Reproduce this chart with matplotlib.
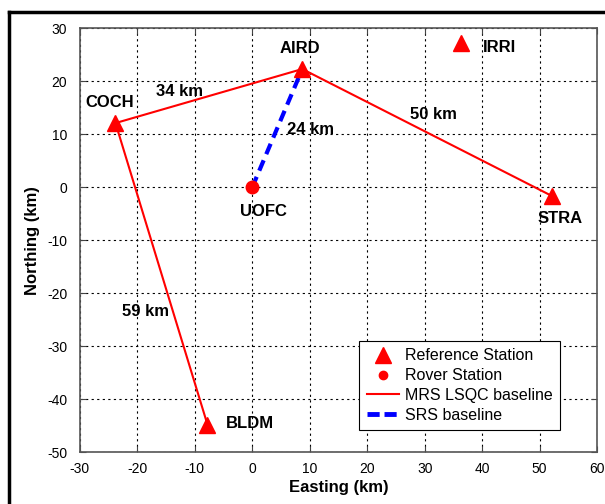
import matplotlib
matplotlib.use("Agg")
import matplotlib.pyplot as plt
from matplotlib.lines import Line2D

plt.rcParams['font.family'] = ['Liberation Sans', 'DejaVu Sans']
plt.rcParams['axes.unicode_minus'] = False

# station coordinates (km)
ref_names = ['COCH', 'AIRD', 'IRRI', 'STRA', 'BLDM']
ref_east = [-23.8, 8.7, 36.3, 52.2, -7.8]
ref_north = [12.1, 22.3, 27.3, -1.7, -44.8]

rover_name = 'UOFC'
rover_east = 0.0
rover_north = 0.0

# MRS LSQC baseline path: BLDM -> COCH -> AIRD -> STRA
mrs_east = [-7.8, -23.8, 8.7, 52.2]
mrs_north = [-44.8, 12.1, 22.3, -1.7]

# SRS baseline: UOFC -> AIRD
srs_east = [0.0, 8.7]
srs_north = [0.0, 22.3]

# label positions
name_pos = {'COCH': (-24.8, 16.0), 'AIRD': (8.3, 26.2), 'IRRI': (43.0, 26.4),
            'STRA': (53.6, -6.0), 'BLDM': (-0.4, -44.6), 'UOFC': (2.0, -4.5)}
dist_labels = ['34 km', '24 km', '50 km', '59 km']
dist_pos = [(-12.6, 18.1), (10.2, 10.8), (31.6, 13.8), (-18.6, -23.4)]

fig = plt.figure(figsize=(6.05, 5.04), dpi=100)
ax = fig.add_axes([0.132, 0.103, 0.855, 0.841])

ax.plot(mrs_east, mrs_north, color='red', lw=1.5, zorder=3)
ax.plot(srs_east, srs_north, color='blue', lw=3, dashes=(2.7, 1.6), zorder=4)
ax.plot(ref_east, ref_north, '^', color='red', ms=12, zorder=5)
ax.plot([rover_east], [rover_north], 'o', color='red', ms=9, zorder=5)

for name, (x, y) in name_pos.items():
    ax.text(x, y, name, fontsize=12, fontweight='bold', ha='center', va='center', zorder=6)
for lab, (x, y) in zip(dist_labels, dist_pos):
    ax.text(x, y, lab, fontsize=12, fontweight='bold', ha='center', va='center', zorder=6)

ax.set_xlim(-30, 60)
ax.set_ylim(-50, 30)
ax.set_xticks(range(-30, 61, 10))
ax.set_yticks(range(-50, 31, 10))
ax.grid(True, color='black', linestyle=(0, (2, 3)), linewidth=0.8)
ax.tick_params(direction='in', top=True, right=True, labelsize=10, length=4, color='#444444')
ax.tick_params(axis='y', pad=9)
ax.tick_params(axis='x', pad=7)
for s in ax.spines.values():
    s.set_color('#555555')
    s.set_linewidth(1.2)
ax.set_xlabel('Easting (km)', fontsize=12, fontweight='bold', labelpad=3)
ax.set_ylabel('Northing (km)', fontsize=12, fontweight='bold', labelpad=5)

handles = [Line2D([], [], marker='^', color='red', ls='none', ms=11),
           Line2D([], [], marker='o', color='red', ls='none', ms=6),
           Line2D([], [], color='red', lw=1.5),
           Line2D([], [], color='blue', lw=3.5, dashes=(2.5, 1))]
labels = ['Reference Station', 'Rover Station', 'MRS LSQC baseline', 'SRS baseline']
leg = ax.legend(handles, labels, loc='lower right', bbox_to_anchor=(0.928, 0.052),
                borderaxespad=0, fontsize=11.5, fancybox=False, edgecolor='black',
                framealpha=1, handlelength=2.0, handletextpad=0.4, labelspacing=0.3,
                borderpad=0.45)
leg.get_frame().set_linewidth(0.8)

# screenshot frame
fig.add_artist(Line2D([0.015, 1.0], [0.976, 0.976], color='black', lw=2.5, transform=fig.transFigure))
fig.add_artist(Line2D([0.015, 0.015], [0.0, 0.976], color='black', lw=2.5, transform=fig.transFigure))

fig.savefig('out.png', dpi=100)
